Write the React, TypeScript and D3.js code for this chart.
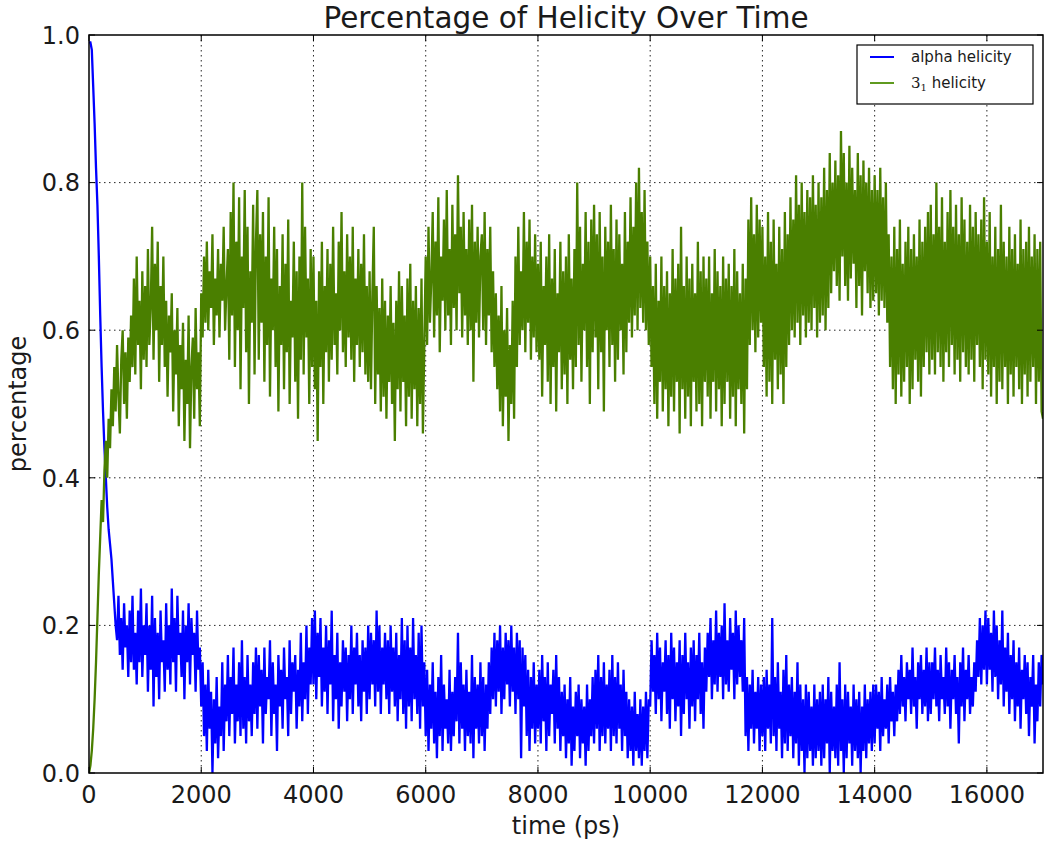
import React from 'react';
import * as d3 from 'd3';

// sampling interval of the series (ps)
const TIME_STEP_PS = 25;
const T_MAX = 17000;

// alpha helicity, percent, one value every 25 ps (0 .. 17000 ps)
const alphaHelicity: number[] = [
  // 0-975
  99, 99, 98, 93, 88, 82, 77, 70, 62, 55, 49, 44, 40, 36, 33, 31, 29, 26, 23, 20,
  18, 24, 16, 21, 14, 23, 17, 20, 13, 22, 15, 24, 14, 19, 12, 22, 15, 25, 13, 20,
  // 1000-1975
  16, 23, 11, 20, 14, 24, 9, 21, 13, 19, 10, 22, 15, 18, 11, 23, 14, 20, 12, 25,
  15, 21, 11, 24, 16, 19, 13, 22, 10, 20, 15, 23, 12, 21, 16, 19, 11, 22, 14, 17,
  // 2000-2975
  9, 15, 5, 12, 3, 14, 6, 11, 0, 10, 4, 13, 2, 9, 5, 15, 3, 12, 7, 16,
  5, 13, 8, 17, 4, 12, 7, 15, 5, 18, 6, 13, 4, 16, 7, 12, 5, 15, 8, 17,
  // 3000-3975
  6, 16, 9, 14, 4, 17, 8, 13, 10, 18, 5, 15, 8, 12, 3, 16, 9, 14, 6, 17,
  10, 13, 5, 18, 8, 15, 11, 16, 6, 14, 9, 19, 7, 15, 10, 20, 8, 17, 12, 21,
  // 4000-4975
  12, 22, 10, 19, 13, 21, 9, 17, 11, 20, 8, 18, 12, 22, 7, 16, 10, 19, 6, 15,
  9, 18, 11, 17, 7, 16, 10, 20, 8, 17, 12, 19, 9, 16, 7, 18, 11, 17, 8, 20,
  // 5000-5975
  10, 19, 12, 18, 9, 22, 11, 20, 8, 17, 12, 19, 10, 18, 8, 20, 11, 17, 9, 19,
  7, 16, 10, 21, 8, 18, 6, 20, 9, 17, 7, 21, 10, 16, 8, 19, 6, 20, 9, 15,
  // 6000-6975
  5, 14, 3, 12, 6, 15, 4, 11, 2, 13, 5, 16, 3, 12, 6, 10, 4, 14, 3, 11,
  5, 13, 7, 19, 4, 15, 6, 12, 3, 14, 5, 11, 4, 16, 2, 13, 6, 12, 4, 15,
  // 7000-7975
  5, 13, 3, 12, 6, 15, 8, 17, 10, 19, 9, 18, 11, 20, 8, 17, 10, 19, 12, 18,
  9, 20, 11, 17, 8, 19, 10, 18, 2, 17, 9, 16, 5, 14, 3, 13, 6, 15, 4, 12,
  // 8000-8975
  6, 14, 4, 16, 7, 13, 3, 15, 5, 12, 8, 14, 4, 16, 6, 13, 3, 11, 5, 12,
  2, 10, 4, 13, 1, 9, 3, 11, 5, 12, 2, 10, 4, 9, 1, 12, 3, 10, 5, 13,
  // 9000-9975
  4, 14, 6, 16, 3, 13, 5, 15, 4, 12, 6, 14, 3, 16, 5, 13, 4, 15, 6, 12,
  3, 14, 5, 11, 2, 10, 3, 9, 1, 11, 3, 8, 2, 10, 1, 9, 3, 11, 2, 10,
  // 10000-10975
  9, 18, 11, 16, 8, 19, 10, 17, 7, 15, 11, 18, 8, 16, 6, 19, 10, 17, 7, 15,
  9, 18, 5, 16, 8, 19, 10, 15, 6, 17, 9, 18, 7, 16, 10, 19, 8, 15, 6, 17,
  // 11000-11975
  11, 19, 13, 21, 10, 18, 12, 22, 11, 19, 13, 20, 10, 23, 12, 18, 11, 21, 14, 19,
  10, 22, 12, 20, 13, 18, 11, 21, 5, 13, 3, 12, 6, 14, 4, 11, 6, 13, 3, 12,
  // 12000-12975
  5, 13, 3, 14, 6, 12, 4, 21, 5, 13, 3, 15, 6, 11, 2, 14, 4, 16, 3, 12,
  5, 13, 2, 11, 4, 15, 1, 12, 3, 10, 0, 12, 2, 11, 3, 9, 1, 12, 2, 10,
  // 13000-13975
  3, 11, 1, 12, 2, 10, 4, 13, 0, 11, 3, 9, 2, 12, 1, 15, 3, 10, 0, 12,
  2, 11, 4, 9, 1, 12, 3, 10, 2, 11, 0, 9, 3, 12, 2, 10, 4, 11, 3, 12,
  // 14000-14975
  4, 12, 6, 11, 3, 13, 5, 10, 6, 12, 4, 13, 7, 11, 5, 12, 7, 14, 8, 16,
  9, 13, 7, 15, 10, 14, 8, 17, 9, 13, 6, 15, 10, 16, 8, 14, 9, 17, 7, 15,
  // 15000-15975
  8, 15, 10, 17, 9, 14, 7, 16, 10, 13, 8, 17, 9, 15, 6, 14, 10, 16, 8, 13,
  4, 15, 9, 17, 7, 14, 10, 16, 8, 13, 9, 15, 11, 18, 13, 21, 12, 20, 14, 22,
  // 16000-16975
  12, 21, 14, 19, 11, 22, 13, 20, 10, 18, 12, 22, 9, 17, 11, 19, 8, 16, 10, 18,
  7, 15, 9, 17, 6, 14, 10, 16, 8, 15, 5, 13, 9, 16, 4, 12, 7, 15, 9, 16,
  // 17000
  12,
];

// 3_1 helicity, percent, one value every 25 ps (0 .. 17000 ps)
const helicity31: number[] = [
  // 0-975
  0, 1, 3, 6, 10, 15, 21, 27, 32, 37, 34, 41, 45, 40, 48, 44, 52, 47, 55, 49,
  58, 51, 46, 56, 60, 50, 57, 48, 59, 53, 62, 55, 67, 54, 70, 58, 64, 52, 68, 56,
  // 1000-1975
  66, 55, 71, 58, 63, 74, 56, 69, 60, 72, 53, 66, 58, 70, 55, 64, 51, 62, 57, 65,
  49, 60, 54, 63, 47, 58, 52, 61, 45, 56, 50, 62, 44, 55, 59, 48, 63, 52, 57, 47,
  // 2000-2975
  65, 59, 70, 61, 72, 60, 68, 63, 73, 58, 67, 62, 71, 59, 69, 64, 74, 60, 66, 71,
  56, 76, 62, 80, 55, 72, 60, 78, 52, 70, 63, 79, 57, 74, 50, 68, 61, 77, 54, 72,
  // 3000-3975
  79, 56, 73, 61, 76, 53, 70, 58, 78, 51, 67, 60, 74, 55, 71, 49, 66, 58, 73, 52,
  69, 57, 75, 50, 64, 59, 72, 53, 68, 48, 70, 56, 80, 54, 74, 59, 67, 50, 71, 55,
  // 4000-4975
  70, 52, 64, 45, 68, 55, 72, 50, 66, 57, 71, 53, 69, 56, 74, 58, 65, 54, 72, 60,
  76, 57, 68, 55, 73, 59, 70, 56, 74, 53, 67, 58, 71, 55, 69, 57, 73, 54, 66, 53,
  // 5000-5975
  68, 52, 65, 74, 50, 66, 54, 63, 49, 67, 51, 64, 48, 62, 53, 66, 50, 61, 45, 64,
  52, 68, 49, 66, 53, 62, 47, 67, 51, 69, 48, 64, 52, 66, 47, 63, 50, 67, 46, 58,
  // 6000-6975
  70, 58, 74, 61, 67, 76, 59, 72, 62, 78, 57, 70, 64, 75, 60, 79, 62, 71, 58, 77,
  63, 73, 60, 81, 65, 74, 59, 76, 62, 71, 58, 75, 60, 77, 53, 72, 61, 74, 59, 70,
  // 7000-7975
  73, 60, 76, 58, 71, 62, 74, 57, 68, 55, 65, 52, 62, 49, 66, 47, 60, 51, 63, 45,
  58, 50, 64, 48, 70, 55, 74, 58, 68, 60, 76, 57, 72, 61, 75, 56, 70, 59, 73, 57,
  // 8000-8975
  69, 56, 72, 51, 66, 58, 70, 53, 73, 50, 67, 55, 71, 49, 65, 57, 72, 52, 68, 54,
  70, 50, 73, 56, 67, 52, 71, 55, 80, 58, 74, 53, 69, 60, 76, 55, 72, 50, 75, 57,
  // 9000-9975
  77, 59, 73, 52, 76, 57, 70, 49, 74, 60, 72, 55, 77, 58, 71, 53, 75, 56, 73, 60,
  69, 54, 76, 57, 72, 61, 78, 59, 74, 62, 80, 60, 82, 63, 76, 61, 79, 60, 72, 58,
  // 10000-10975
  70, 55, 66, 50, 69, 48, 64, 53, 70, 49, 66, 52, 68, 47, 65, 51, 71, 49, 67, 53,
  69, 46, 74, 52, 66, 48, 70, 51, 67, 47, 69, 53, 65, 49, 72, 50, 68, 47, 70, 53,
  // 11000-11975
  67, 51, 70, 48, 65, 53, 71, 49, 68, 52, 66, 47, 70, 50, 67, 53, 69, 48, 66, 51,
  71, 47, 68, 52, 65, 50, 69, 46, 67, 52, 75, 58, 78, 60, 73, 57, 77, 59, 75, 61,
  // 12000-12975
  74, 55, 70, 51, 76, 53, 72, 50, 75, 56, 69, 52, 74, 54, 71, 50, 76, 55, 73, 58,
  78, 60, 75, 59, 81, 61, 77, 58, 80, 62, 76, 59, 79, 61, 78, 60, 81, 63, 77, 59,
  // 13000-13975
  80, 61, 78, 62, 82, 60, 79, 63, 84, 65, 80, 68, 83, 66, 81, 64, 87, 70, 84, 66,
  80, 64, 85, 67, 82, 69, 79, 63, 84, 66, 81, 62, 83, 68, 80, 65, 82, 63, 79, 64,
  // 14000-14975
  81, 65, 79, 62, 82, 64, 78, 63, 80, 61, 73, 55, 70, 52, 74, 50, 71, 54, 75, 51,
  69, 53, 72, 55, 74, 50, 71, 52, 73, 56, 70, 53, 75, 51, 72, 55, 74, 57, 76, 54,
  // 15000-15975
  77, 56, 73, 54, 80, 57, 74, 55, 78, 53, 72, 57, 76, 55, 79, 58, 74, 54, 77, 56,
  73, 53, 78, 57, 75, 55, 72, 54, 77, 56, 74, 53, 76, 58, 73, 55, 75, 52, 78, 56,
  // 16000-16975
  72, 54, 76, 51, 70, 55, 74, 50, 71, 53, 77, 52, 72, 55, 70, 50, 74, 54, 71, 51,
  73, 55, 69, 52, 75, 50, 71, 54, 72, 51, 74, 53, 70, 55, 73, 50, 71, 53, 72, 49,
  // 17000
  48,
];

const xTicks = [0, 2000, 4000, 6000, 8000, 10000, 12000, 14000, 16000];
const yTicks = [0, 0.2, 0.4, 0.6, 0.8, 1.0];

const TITLE = 'Percentage of Helicity Over Time';
const X_LABEL = 'time (ps)';
const Y_LABEL = 'percentage';

const BLUE = '#0000ff';
const GREEN = '#4a7f00';
const FONT = '"DejaVu Sans", sans-serif';

export default function App() {
  const W = 1050;
  const H = 845;
  const L = 89, R = 1043, T = 35, B = 773;

  const x = d3.scaleLinear().domain([0, T_MAX]).range([L, R]);
  const y = d3.scaleLinear().domain([0, 1]).range([B, T]);

  const line = d3
    .line<number>()
    .x((_, i) => x(i * TIME_STEP_PS))
    .y((d) => y(d / 100));

  const tickLen = 6;

  return (
    <svg
      width={W}
      height={H}
      style={{ position: 'absolute', left: 0, top: 0, background: '#fff' }}
      fontFamily={FONT}
    >
      <defs>
        <clipPath id="plotClip">
          <rect x={L} y={T} width={R - L} height={B - T} />
        </clipPath>
      </defs>
      <rect x={0} y={0} width={W} height={H} fill="#fff" />

      {/* grid */}
      <g stroke="#000" strokeWidth={1} strokeDasharray="1.5,3.5" opacity={0.85}>
        {xTicks.filter((t) => t > 0).map((t) => (
          <line key={'gx' + t} x1={x(t)} x2={x(t)} y1={T} y2={B} />
        ))}
        {yTicks.filter((t) => t > 0 && t < 1).map((t) => (
          <line key={'gy' + t} x1={L} x2={R} y1={y(t)} y2={y(t)} />
        ))}
      </g>

      {/* series */}
      <g clipPath="url(#plotClip)" fill="none" strokeWidth={2.3} strokeLinejoin="miter" strokeMiterlimit={2}>
        <path d={line(alphaHelicity) || ''} stroke={BLUE} />
        <path d={line(helicity31) || ''} stroke={GREEN} />
      </g>

      {/* ticks */}
      <g stroke="#000" strokeWidth={1}>
        {xTicks.map((t) => (
          <g key={'tx' + t}>
            <line x1={x(t)} x2={x(t)} y1={B} y2={B - tickLen} />
            <line x1={x(t)} x2={x(t)} y1={T} y2={T + tickLen} />
          </g>
        ))}
        {yTicks.map((t) => (
          <g key={'ty' + t}>
            <line x1={L} x2={L + tickLen} y1={y(t)} y2={y(t)} />
            <line x1={R} x2={R - tickLen} y1={y(t)} y2={y(t)} />
          </g>
        ))}
      </g>

      {/* frame */}
      <rect x={L} y={T} width={R - L} height={B - T} fill="none" stroke="#000" strokeWidth={1.5} />

      {/* tick labels */}
      <g fontSize={24} fill="#1a1a1a">
        {xTicks.map((t) => (
          <text key={'lx' + t} x={x(t)} y={803} textAnchor="middle">
            {d3.format('d')(t)}
          </text>
        ))}
        {yTicks.map((t) => (
          <text key={'ly' + t} x={80} y={y(t) + 8.7} textAnchor="end">
            {d3.format('.1f')(t)}
          </text>
        ))}
      </g>

      {/* title and axis labels */}
      <text x={(L + R) / 2} y={27.5} textAnchor="middle" fontSize={29.5} fill="#1a1a1a">
        {TITLE}
      </text>
      <text x={(L + R) / 2} y={834} textAnchor="middle" fontSize={24} fill="#1a1a1a">
        {X_LABEL}
      </text>
      <text
        transform={`translate(26, ${(T + B) / 2}) rotate(-90)`}
        textAnchor="middle"
        fontSize={24}
        fill="#1a1a1a"
      >
        {Y_LABEL}
      </text>

      {/* legend */}
      <g>
        <rect x={857} y={45} width={176} height={59} fill="#fff" stroke="#000" strokeWidth={1.2} />
        <line x1={870} x2={894} y1={57} y2={57} stroke={BLUE} strokeWidth={2} />
        <line x1={870} x2={894} y1={83} y2={83} stroke="#5f9a1f" strokeWidth={2} />
        <text x={911} y={62} fontSize={15} fill="#1a1a1a">alpha helicity</text>
        <text x={911} y={88} fontSize={15} fill="#1a1a1a">
          <tspan fontFamily='"DejaVu Serif", serif'>3</tspan>
          <tspan fontFamily='"DejaVu Serif", serif' fontSize={10} dy={3}>1</tspan>
          <tspan dy={-3}> helicity</tspan>
        </text>
      </g>
    </svg>
  );
}
